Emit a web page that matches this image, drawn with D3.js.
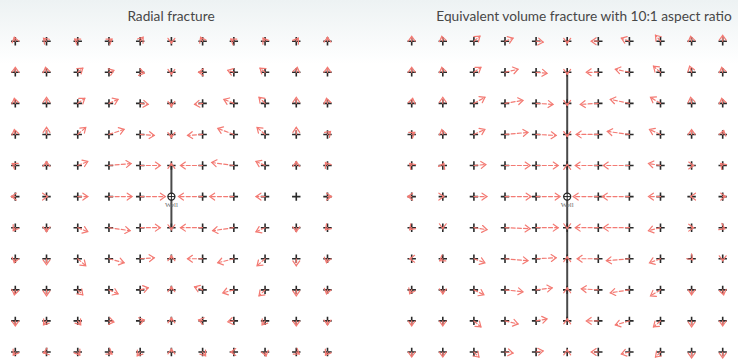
<!DOCTYPE html>
<html>
<head>
<meta charset="utf-8">
<script src="https://cdn.jsdelivr.net/npm/d3@7"></script>
<style>
  html, body { margin: 0; padding: 0; background: #fff; }
  svg { display: block; }
</style>
</head>
<body>
<svg id="chart" width="738" height="363"></svg>
<script>
// Grid of observation points (same for both panels), in cell units from the well
const gridPos = [-5, -4, -3, -2, -1, 0, 1, 2, 3, 4, 5];

// Panel titles
const titles = ["Radial fracture", "Equivalent volume fracture with 10:1 aspect ratio"];

// Fracture half-lengths (cell units) along the vertical through the well
const fractureHalf = [1, 4];

// Displacement vectors, rows listed from top (y = 5) to bottom (y = -5).
// East component (u) and north component (v), in displacement units.
const radialU = [
  [-1, -3, -3, 3, 3, 0, -2, -3, -2, 2, 0],
  [0, -1, 5, 5, 4, 0, -4, -6, -5, 1, 0],
  [-1, 0, 7, 9, 8, 0, -8, -10, -6, 0, -1],
  [-1, 0, 8, 15, 14, 0, -15, -16, -8, 0, 3],
  [-3, 0, 10, 22, 20, 0, -22, -22, -9, 0, -2],
  [-4, 1, 10, 23, 25, 0, -24, -24, -9, 0, 4],
  [-2, 0, 10, 21, 20, 0, -22, -21, -9, 0, -2],
  [-1, 0, 8, 15, 14, 0, -15, -16, -8, 0, -1],
  [-1, 0, 5, 9, 8, 0, -8, -11, -6, 0, -1],
  [0, -3, 3, 5, 4, 0, -4, -6, -3, 0, 0],
  [-2, -3, 2, 3, -3, 0, 3, -3, 1, 3, -2]
];
const radialV = [
  [4, 3, 2, 2, 4, -2, 4, 2, 3, 3, 4],
  [5, 5, 4, 2, -1, -2, 0, 2, 4, 5, 5],
  [5, 6, 5, 4, -1, -3, -1, 4, 6, 6, 5],
  [5, 7, 7, 5, -1, -3, -1, 6, 7, 7, 3],
  [2, 4, 4, 2, 0, 2, 0, 3, 4, 4, 3],
  [0, 0, 0, 0, 0, 0, 0, 0, 0, 0, 0],
  [-3, -4, -4, -3, 0, -2, 0, -3, -4, -4, -2],
  [-4, -6, -7, -4, 1, 3, 0, -4, -7, -7, -4],
  [-5, -6, -5, -4, 2, 3, 3, -3, -6, -6, -4],
  [-5, -4, -4, -1, 1, 3, 1, -1, -4, -5, -4],
  [-3, -1, -3, -2, -4, 3, -4, 0, -4, -2, -3]
];
const planarU = [
  [0, -1, 6, 8, 7, 0, -7, -8, -5, -1, 0],
  [0, -1, 7, 13, 11, 0, -12, -14, -7, -2, -1],
  [1, 0, 11, 18, 17, 0, -18, -19, -10, -1, -1],
  [3, -1, 11, 23, 20, 0, -22, -22, -11, 0, 1],
  [-2, 1, 12, 25, 22, 0, -23, -26, -12, 2, -2],
  [-4, 1, 13, 26, 24, 0, -25, -27, -12, -1, 3],
  [-2, 0, 13, 25, 22, 0, -23, -26, -12, 2, 2],
  [-2, -3, 11, 23, 20, 0, -21, -23, -11, 1, 0],
  [-2, 0, 10, 18, 16, 0, -17, -19, -10, 0, 1],
  [0, 0, 7, 13, 11, 0, -12, -14, -7, 0, 0],
  [0, 0, 5, 8, 7, 0, -7, -8, -5, 0, 0]
];
const planarV = [
  [5, 5, 5, 3, -1, -2, 0, 3, 6, 5, 6],
  [5, 5, 5, 3, -1, -2, 0, 3, 6, 6, 5],
  [5, 6, 6, 3, -1, -2, -1, 4, 6, 6, 5],
  [2, 5, 5, 2, -1, -2, 0, 3, 5, 5, 4],
  [2, 2, 1, 0, 0, 1, 0, 0, 2, 0, 2],
  [0, 0, 0, 0, 0, 0, 0, 0, 0, 0, 0],
  [-2, -1, -2, -1, 0, -1, 0, 0, -3, 0, -1],
  [0, -2, -4, -2, 1, 2, 0, -2, -4, -1, -2],
  [-4, -4, -5, -2, 2, 2, 1, -3, -6, -5, -5],
  [-5, -5, -6, -3, 2, 2, 0, -4, -6, -6, -5],
  [-5, -5, -5, -1, 1, 2, 0, -2, -5, -6, -6]
];

const panels = [
  { title: titles[0], half: fractureHalf[0], U: radialU, V: radialV, xRange: [15.3, 327.5], titleX: 171 },
  { title: titles[1], half: fractureHalf[1], U: planarU, V: planarV, xRange: [411.7, 722.7], titleX: 584 }
];

const svg = d3.select("#chart");

// soft wash behind the titles
const defs = svg.append("defs");
const grad = defs.append("linearGradient").attr("id", "topWash")
  .attr("x1", 0).attr("y1", 0).attr("x2", 0).attr("y2", 1);
grad.append("stop").attr("offset", "0%").attr("stop-color", "#edf2f3");
grad.append("stop").attr("offset", "100%").attr("stop-color", "#ffffff");
svg.append("rect").attr("x", 0).attr("y", 0).attr("width", 738).attr("height", 64)
  .attr("fill", "url(#topWash)");

const arrowColor = "#f37a73";
const crossColor = "#2a2a2a";
const headLen = 6, headAngle = 35 * Math.PI / 180;

panels.forEach(p => {
  const x = d3.scaleLinear().domain([-5, 5]).range(p.xRange);
  const y = d3.scaleLinear().domain([5, -5]).range([41.2, 352]);
  const cell = x(1) - x(0);
  const disp = d3.scaleLinear().domain([0, 31]).range([0, cell]);

  const g = svg.append("g");

  g.append("text")
    .attr("x", p.titleX).attr("y", 20.5)
    .attr("text-anchor", "middle")
    .attr("font-family", "Lato, 'Open Sans', sans-serif")
    .attr("font-size", 13.7)
    .attr("fill", "#474747")
    .text(p.title);

  // fracture trace
  g.append("line")
    .attr("x1", x(0)).attr("x2", x(0))
    .attr("y1", y(p.half)).attr("y2", y(-p.half))
    .attr("stroke", "#4a4a4a").attr("stroke-width", 2);

  // observation points
  const pts = [];
  gridPos.slice().reverse().forEach((gy, r) => {
    gridPos.forEach((gx, c) => {
      pts.push({ gx, gy, u: p.U[r][c], v: p.V[r][c] });
    });
  });

  const crosses = pts.filter(d => !(d.gx === 0 && d.gy === 0));
  const cg = g.append("g").attr("stroke", crossColor).attr("stroke-width", 1.6);
  cg.selectAll("path").data(crosses).join("path")
    .attr("d", d => {
      const cx = x(d.gx), cy = y(d.gy), a = 4.2;
      return `M${cx - a},${cy}H${cx + a}M${cx},${cy - a}V${cy + a}`;
    });

  // well
  const wx = x(0), wy = y(0);
  g.append("circle").attr("cx", wx).attr("cy", wy).attr("r", 3.5)
    .attr("fill", "#fff").attr("stroke", "#222").attr("stroke-width", 1.3);
  g.append("path")
    .attr("d", `M${wx - 3.5},${wy}H${wx + 3.5}M${wx},${wy - 3.5}V${wy + 3.5}`)
    .attr("stroke", "#222").attr("stroke-width", 1);
  g.append("text")
    .attr("x", wx).attr("y", wy + 10.5)
    .attr("text-anchor", "middle")
    .attr("font-family", "'Liberation Serif', serif")
    .attr("font-size", 7)
    .attr("fill", "#6a6a6a")
    .text("Well");

  // displacement arrows
  const vecs = pts.filter(d => d.u !== 0 || d.v !== 0);
  const ag = g.append("g").attr("fill", "none").attr("stroke", arrowColor)
    .attr("stroke-width", 1.2).attr("stroke-linecap", "round");
  const arrows = ag.selectAll("g").data(vecs).join("g");
  arrows.append("line")
    .attr("x1", d => x(d.gx)).attr("y1", d => y(d.gy))
    .attr("x2", d => x(d.gx) + disp(d.u)).attr("y2", d => y(d.gy) - disp(d.v))
    .attr("stroke-dasharray", "4,2.2");
  arrows.append("path")
    .attr("d", d => {
      const tx = x(d.gx) + disp(d.u), ty = y(d.gy) - disp(d.v);
      const ang = Math.atan2(-disp(d.v), disp(d.u));
      const b1x = tx - headLen * Math.cos(ang - headAngle), b1y = ty - headLen * Math.sin(ang - headAngle);
      const b2x = tx - headLen * Math.cos(ang + headAngle), b2y = ty - headLen * Math.sin(ang + headAngle);
      return `M${b1x},${b1y}L${tx},${ty}L${b2x},${b2y}`;
    });
});
</script>
</body>
</html>
